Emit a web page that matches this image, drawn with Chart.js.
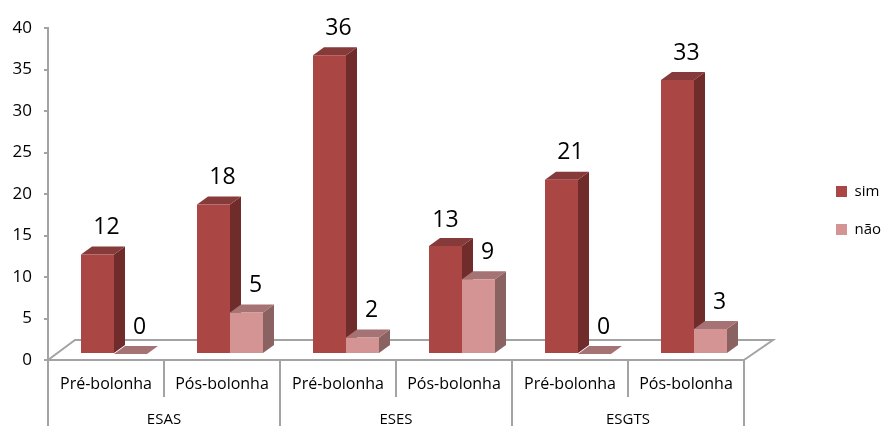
<!DOCTYPE html>
<html>
<head>
<meta charset="utf-8">
<style>
  html, body { margin: 0; padding: 0; background: #fff; }
  canvas { display: block; }
</style>
<script src="https://cdn.jsdelivr.net/npm/chart.js@4/dist/chart.umd.min.js"></script>
</head>
<body>
<canvas id="chart" width="881" height="426"></canvas>
<script>
// Data
var periodLabels = ["Pré-bolonha", "Pós-bolonha", "Pré-bolonha", "Pós-bolonha", "Pré-bolonha", "Pós-bolonha"];
var schoolLabels = ["ESAS", "ESES", "ESGTS"];
var simValues = [12, 18, 36, 13, 21, 33];
var naoValues = [0, 5, 2, 9, 0, 3];

var fontName = "'Open Sans', 'Noto Sans', sans-serif";
var axisColor = "#a3a3a3";
var depthX = 11;
var depthY = 8;
var shiftX = 8;
var shiftY = -6;
var faceColors = [
  { front: "#aa4644", side: "#6f2c2b", top: "#863a39" },
  { front: "#d39493", side: "#8a6262", top: "#a57373" }
];

function drawFace(ctx, color, pts) {
  ctx.fillStyle = color;
  ctx.beginPath();
  ctx.moveTo(pts[0][0], pts[0][1]);
  for (var i = 1; i < pts.length; i++) {
    ctx.lineTo(pts[i][0], pts[i][1]);
  }
  ctx.closePath();
  ctx.fill();
}

// The floor, the depth of the bars and the labels on top of them
var fakeDepth = {
  id: "fakeDepth",
  afterLayout: function (chart) {
    var legend = chart.legend;
    var w = legend.width;
    var h = legend.height;
    legend.left = 813;
    legend.right = legend.left + w;
    legend.top = 161;
    legend.bottom = legend.top + h;
  },
  beforeDatasetsDraw: function (chart) {
    var ctx = chart.ctx;
    var area = chart.chartArea;
    ctx.save();
    ctx.strokeStyle = axisColor;
    ctx.lineWidth = 2;
    ctx.beginPath();
    ctx.moveTo(area.left, area.bottom);
    ctx.lineTo(area.left + 27, area.bottom - 20);
    ctx.lineTo(area.right + 29, area.bottom - 20);
    ctx.lineTo(area.right, area.bottom);
    ctx.stroke();
    ctx.restore();

    ctx.save();
    ctx.translate(shiftX, shiftY);
    for (var d = 0; d < chart.data.datasets.length; d++) {
      var bars = chart.getDatasetMeta(d).data;
      for (var i = 0; i < bars.length; i++) {
        var b = bars[i];
        var left = b.x - b.width / 2;
        var right = b.x + b.width / 2;
        drawFace(ctx, faceColors[d].side, [
          [right, b.y], [right + depthX, b.y - depthY],
          [right + depthX, b.base - depthY], [right, b.base]
        ]);
        drawFace(ctx, faceColors[d].top, [
          [left, b.y], [left + depthX, b.y - depthY],
          [right + depthX, b.y - depthY], [right, b.y]
        ]);
      }
    }
  },
  afterDatasetsDraw: function (chart) {
    var ctx = chart.ctx;
    ctx.restore();

    ctx.save();
    ctx.fillStyle = "#000";
    ctx.font = "23px " + fontName;
    ctx.textAlign = "center";
    ctx.textBaseline = "middle";
    for (var d = 0; d < chart.data.datasets.length; d++) {
      var bars = chart.getDatasetMeta(d).data;
      var values = chart.data.datasets[d].data;
      for (var i = 0; i < bars.length; i++) {
        // the sim label moves over its bar when the nao label would touch it
        var crowded = d === 0 && values[i] - naoValues[i] <= 5;
        var dx = crowded ? 0 : 9;
        var dy = crowded ? -26 : -27;
        ctx.fillText(values[i], bars[i].x + shiftX + dx, bars[i].y + shiftY + dy);
      }
    }
    ctx.restore();
  }
};

var chart = new Chart(document.getElementById("chart"), {
  type: "bar",
  data: {
    labels: periodLabels,
    datasets: [
      { label: "sim", data: simValues, backgroundColor: faceColors[0].front, borderWidth: 0 },
      { label: "não", data: naoValues, backgroundColor: faceColors[1].front, borderWidth: 0 }
    ]
  },
  plugins: [fakeDepth],
  options: {
    responsive: false,
    animation: false,
    categoryPercentage: 0.569,
    barPercentage: 1,
    layout: { padding: { left: 0, right: 137, top: 28, bottom: 0 } },
    plugins: {
      tooltip: { enabled: false },
      legend: {
        position: "chartArea",
        align: "start",
        labels: {
          boxWidth: 11,
          boxHeight: 11,
          padding: 23,
          color: "#000",
          font: { family: fontName, size: 15 }
        }
      }
    },
    scales: {
      y: {
        min: 0,
        max: 40,
        afterFit: function (scale) { scale.width = 48; },
        ticks: { stepSize: 5, color: "#000", padding: 12, font: { family: fontName, size: 17 } },
        grid: { drawOnChartArea: false, color: axisColor, lineWidth: 2, tickLength: 4 },
        border: { color: axisColor, width: 2 }
      },
      x: {
        weight: 0,
        afterFit: function (scale) { scale.height = 36; },
        ticks: { color: "#000", padding: -22, maxRotation: 0, autoSkip: false, font: { family: fontName, size: 16 } },
        grid: { offset: true, drawOnChartArea: false, color: axisColor, lineWidth: 2, tickLength: 37 },
        border: { color: axisColor, width: 2 }
      },
      x2: {
        type: "category",
        labels: schoolLabels,
        position: "bottom",
        weight: 1,
        afterFit: function (scale) { scale.height = 30; },
        ticks: { color: "#000", padding: -16, maxRotation: 0, autoSkip: false, font: { family: fontName, size: 15 } },
        grid: { offset: true, drawOnChartArea: false, color: axisColor, lineWidth: 2, tickLength: 31 },
        border: { display: false }
      }
    }
  }
});
</script>
</body>
</html>
